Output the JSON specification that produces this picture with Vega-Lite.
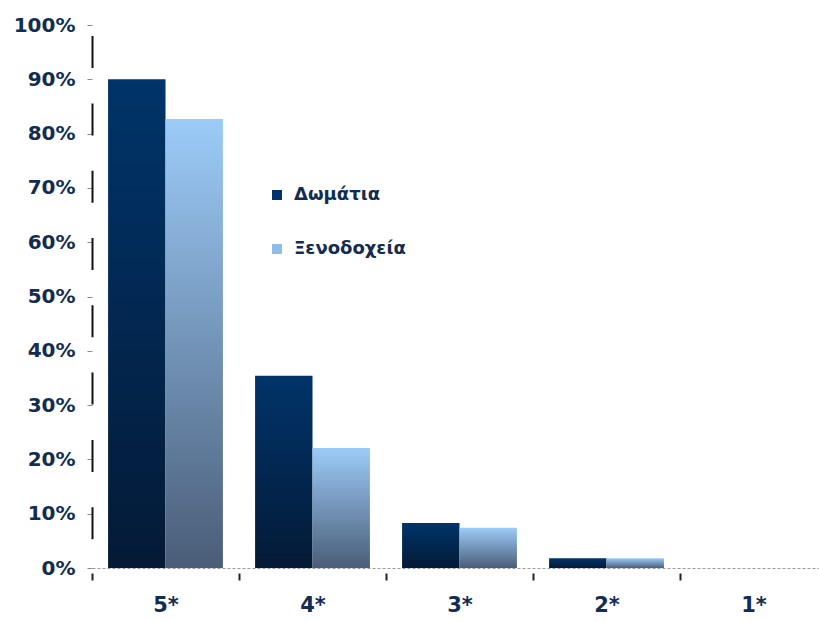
{
  "$schema": "https://vega.github.io/schema/vega-lite/v6.json",
  "width": 727,
  "height": 543,
  "autosize": {"type": "none"},
  "padding": {"left": 92, "top": 25, "right": 0, "bottom": 53},
  "background": "white",
  "config": {
    "view": {"stroke": null},
    "font": "DejaVu Sans"
  },
  "data": {
    "values": [
      {"category": "5*", "type": "Δωμάτια", "share": 0.90},
      {"category": "5*", "type": "Ξενοδοχεία", "share": 0.827},
      {"category": "4*", "type": "Δωμάτια", "share": 0.354},
      {"category": "4*", "type": "Ξενοδοχεία", "share": 0.221},
      {"category": "3*", "type": "Δωμάτια", "share": 0.083},
      {"category": "3*", "type": "Ξενοδοχεία", "share": 0.074},
      {"category": "2*", "type": "Δωμάτια", "share": 0.018},
      {"category": "2*", "type": "Ξενοδοχεία", "share": 0.018},
      {"category": "1*", "type": "Δωμάτια", "share": 0.0},
      {"category": "1*", "type": "Ξενοδοχεία", "share": 0.0}
    ]
  },
  "encoding": {
    "x": {
      "field": "category",
      "type": "nominal",
      "sort": ["5*", "4*", "3*", "2*", "1*"],
      "scale": {"range": [0, 735], "paddingInner": 0, "paddingOuter": 0},
      "axis": {
        "title": null,
        "labelAngle": 0,
        "labelFont": "DejaVu Sans",
        "labelFontWeight": "bold",
        "labelFontSize": 21,
        "labelColor": "#132c52",
        "labelPadding": 14,
        "tickBand": "extent",
        "tickSize": 12,
        "tickColor": "#222222",
        "tickWidth": 2,
        "tickDash": [0, 5, 7],
        "domainColor": "#9a9a9a",
        "domainWidth": 1,
        "domainDash": [3, 2]
      }
    },
    "xOffset": {
      "field": "type",
      "type": "nominal",
      "scale": {"domain": ["Δωμάτια", "Ξενοδοχεία"], "paddingInner": 0, "paddingOuter": 0.28}
    },
    "y": {
      "field": "share",
      "type": "quantitative",
      "scale": {"domain": [0, 1], "nice": false},
      "axis": {
        "title": null,
        "format": ".0%",
        "values": [0, 0.1, 0.2, 0.3, 0.4, 0.5, 0.6, 0.7, 0.8, 0.9, 1],
        "labelFont": "DejaVu Sans",
        "labelFontWeight": "bold",
        "labelFontSize": 20,
        "labelColor": "#132c52",
        "labelPadding": 12,
        "tickSize": 5,
        "tickColor": "#8a8a8a",
        "tickWidth": 1,
        "grid": false,
        "domainColor": "#111111",
        "domainWidth": 2,
        "domainDash": [32, 35.3],
        "domainDashOffset": 38
      }
    }
  },
  "layer": [
    {
      "transform": [{"filter": "datum.type === 'Δωμάτια'"}],
      "mark": {
        "type": "bar",
        "strokeWidth": 0,
        "fill": {"gradient": "linear", "x1": 0, "y1": 0, "x2": 0, "y2": 1,
                 "stops": [{"offset": 0, "color": "#00346a"}, {"offset": 1, "color": "#041a36"}]}
      }
    },
    {
      "transform": [{"filter": "datum.type === 'Ξενοδοχεία'"}],
      "mark": {
        "type": "bar",
        "strokeWidth": 0,
        "fill": {"gradient": "linear", "x1": 0, "y1": 0, "x2": 0, "y2": 1,
                 "stops": [{"offset": 0, "color": "#9ccbf8"}, {"offset": 1, "color": "#4a5d78"}]}
      }
    },
    {
      "mark": {"type": "bar", "opacity": 0},
      "encoding": {
        "color": {
          "field": "type",
          "type": "nominal",
          "scale": {"domain": ["Δωμάτια", "Ξενοδοχεία"], "range": ["#00346a", "#8fbde9"]},
          "legend": {
            "title": null,
            "orient": "none",
            "legendX": 176,
            "legendY": 161,
            "symbolType": "square",
            "symbolSize": 100,
            "symbolOpacity": 1,
            "symbolStrokeWidth": 0,
            "labelFont": "DejaVu Sans",
            "labelFontWeight": "bold",
            "labelFontSize": 18,
            "labelColor": "#132c52",
            "labelOffset": 8,
            "rowPadding": 36
          }
        }
      }
    }
  ]
}
